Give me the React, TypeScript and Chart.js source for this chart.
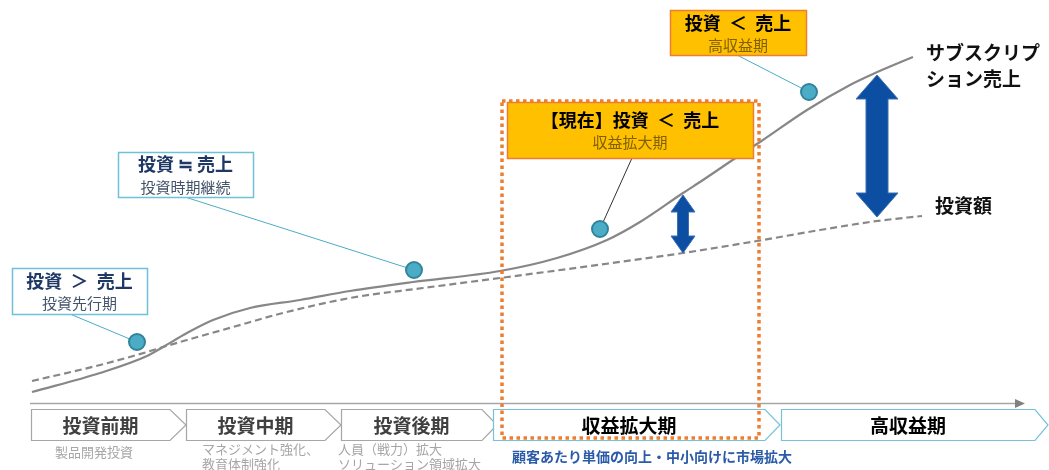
import React, { useEffect, useRef } from "react";
import { Chart, registerables } from "chart.js";

Chart.register(...registerables);

// ---- data (time on x, amount on y) ----
const salesT = [32, 100, 147, 163, 187, 213, 250, 300, 350, 413, 500, 557, 607, 640, 683, 703, 740, 760, 807, 850, 873, 913];
const salesV = [78, 97, 114, 123, 137, 150, 162, 170, 179, 188, 199, 212, 230, 248, 277, 290, 315, 328, 360, 385, 396, 413];
const investT = [32, 100, 147, 163, 187, 233, 283, 350, 423, 500, 590, 683, 757, 820, 877, 922];
const investV = [89, 105, 118, 123, 130, 143, 157, 172, 182, 192, 204, 217, 229, 240, 249, 254];
const milestoneT = [137, 414, 600, 809];
const milestoneV = [128, 200, 241, 378];
const gapT = [683, 877];
const gapTop = [275, 395];
const gapBottom = [217, 253];

const phaseLabels = ["投資前期", "投資中期", "投資後期", "収益拡大期", "高収益期"];
const phaseNotes = [["製品開発投資"], ["マネジメント強化、", "教育体制強化"], ["人員（戦力）拡大", "ソリューション領域拡大"]];
const growthNote = "顧客あたり単価の向上・中小向けに市場拡大";
const boxTitles = ["投資  ＞  売上", "投資 ≒ 売上", "【現在】投資  ＜  売上", "投資  ＜  売上"];
const boxSubs = ["投資先行期", "投資時期継続", "収益拡大期", "高収益期"];
const salesLabel = ["サブスクリプ", "ション売上"];
const investLabel = "投資額";

const FONT = '"Noto Sans CJK JP", "Noto Sans", sans-serif';

// layout (pixels)
const boxes = [
  { x: 12, y: 268, w: 135, h: 46, fill: "#FFFFFF", stroke: "#6EC1D6", tc: "#1F3864", sc: "#44546A", ax: 70, ay: 314, lc: "#4BACC6", ty: 13, sy: 35 },
  { x: 118, y: 152, w: 135, h: 45, fill: "#FFFFFF", stroke: "#6EC1D6", tc: "#1F3864", sc: "#44546A", ax: 185, ay: 197, lc: "#4BACC6", ty: 12, sy: 35 },
  { x: 507, y: 102, w: 246, h: 56, fill: "#FFC000", stroke: "#ED7D31", tc: "#000000", sc: "#7F6000", ax: 632, ay: 158, lc: "#303030", ty: 18, sy: 40 },
  { x: 670, y: 10, w: 136, h: 45, fill: "#FFC000", stroke: "#ED7D31", tc: "#000000", sc: "#7F6000", ax: 737, ay: 55, lc: "#4BACC6", ty: 13, sy: 35 },
];
const chevrons = [
  { l: 31, b: 170, tip: 186, stroke: "#A6A6A6", color: "#404040" },
  { l: 186, b: 325, tip: 341, stroke: "#A6A6A6", color: "#404040" },
  { l: 341, b: 482, tip: 497, stroke: "#A6A6A6", color: "#404040" },
  { l: 493, b: 765, tip: 780, stroke: "#74C3D9", color: "#000000" },
  { l: 781, b: 1035, tip: 1048, stroke: "#74C3D9", color: "#000000" },
];
const noteX = [55, 202, 338];

function doubleArrow(ctx: CanvasRenderingContext2D, x: number, top: number, bot: number, sw: number, hw: number, hh: number) {
  ctx.beginPath();
  ctx.moveTo(x, top);
  ctx.lineTo(x + hw / 2, top + hh);
  ctx.lineTo(x + sw / 2, top + hh);
  ctx.lineTo(x + sw / 2, bot - hh);
  ctx.lineTo(x + hw / 2, bot - hh);
  ctx.lineTo(x, bot);
  ctx.lineTo(x - hw / 2, bot - hh);
  ctx.lineTo(x - sw / 2, bot - hh);
  ctx.lineTo(x - sw / 2, top + hh);
  ctx.lineTo(x - hw / 2, top + hh);
  ctx.closePath();
  ctx.fillStyle = "#0B4EA2";
  ctx.fill();
  ctx.strokeStyle = "#3C6FB5";
  ctx.lineWidth = 1;
  ctx.stroke();
}

const diagram = {
  id: "diagram",
  beforeDatasetsDraw(chart: any) {
    const ctx = chart.ctx as CanvasRenderingContext2D;
    const xs = chart.scales.x, ys = chart.scales.y;
    ctx.save();
    boxes.forEach((b, i) => {
      ctx.beginPath();
      ctx.moveTo(b.ax, b.ay);
      ctx.lineTo(xs.getPixelForValue(milestoneT[i]), ys.getPixelForValue(milestoneV[i]));
      ctx.strokeStyle = b.lc;
      ctx.lineWidth = 1;
      ctx.stroke();
    });
    ctx.restore();
  },
  afterDatasetsDraw(chart: any) {
    const ctx = chart.ctx as CanvasRenderingContext2D;
    const xs = chart.scales.x, ys = chart.scales.y;
    ctx.save();
    // time axis
    ctx.beginPath();
    ctx.moveTo(30, 403.5);
    ctx.lineTo(1016, 403.5);
    ctx.strokeStyle = "#A6A6A6";
    ctx.lineWidth = 1.5;
    ctx.stroke();
    ctx.beginPath();
    ctx.moveTo(1025, 403.5);
    ctx.lineTo(1015, 399);
    ctx.lineTo(1015, 408);
    ctx.closePath();
    ctx.fillStyle = "#808080";
    ctx.fill();

    // chevrons
    const top = 409.5, bot = 440.5, mid = (top + bot) / 2;
    chevrons.forEach((c, i) => {
      ctx.beginPath();
      ctx.moveTo(c.l + 0.5, top);
      ctx.lineTo(c.b, top);
      ctx.lineTo(c.tip, mid);
      ctx.lineTo(c.b, bot);
      ctx.lineTo(c.l + 0.5, bot);
      ctx.closePath();
      ctx.fillStyle = "#FFFFFF";
      ctx.fill();
      ctx.strokeStyle = c.stroke;
      ctx.lineWidth = 1.2;
      ctx.stroke();
      ctx.fillStyle = c.color;
      ctx.font = `bold 19px ${FONT}`;
      ctx.textAlign = "center";
      ctx.textBaseline = "middle";
      ctx.fillText(phaseLabels[i], (c.l + c.b) / 2, mid + 1);
    });

    // notes
    ctx.textAlign = "left";
    ctx.font = `13px ${FONT}`;
    ctx.fillStyle = "#A6A6A6";
    phaseNotes.forEach((lines, i) => {
      lines.forEach((s, j) => ctx.fillText(s, noteX[i], (lines.length === 1 ? 452 : 449) + j * 15));
    });
    ctx.font = `bold 14px ${FONT}`;
    ctx.fillStyle = "#2B5BA8";
    ctx.fillText(growthNote, 512, 457);

    // boxes
    boxes.forEach((b, i) => {
      ctx.fillStyle = b.fill;
      ctx.fillRect(b.x, b.y, b.w, b.h);
      ctx.strokeStyle = b.stroke;
      ctx.lineWidth = 1.5;
      ctx.strokeRect(b.x + 0.5, b.y + 0.5, b.w, b.h);
      ctx.textAlign = "center";
      ctx.fillStyle = b.tc;
      ctx.font = `bold 18px ${FONT}`;
      ctx.fillText(boxTitles[i], b.x + b.w / 2, b.y + b.ty);
      ctx.fillStyle = b.sc;
      ctx.font = `15px ${FONT}`;
      ctx.fillText(boxSubs[i], b.x + b.w / 2, b.y + b.sy);
    });

    // gap arrows
    doubleArrow(ctx, xs.getPixelForValue(gapT[0]), ys.getPixelForValue(gapTop[0]), ys.getPixelForValue(gapBottom[0]), 11, 24, 17);
    doubleArrow(ctx, xs.getPixelForValue(gapT[1]), ys.getPixelForValue(gapTop[1]), ys.getPixelForValue(gapBottom[1]), 22, 42, 24);

    // series labels
    ctx.textAlign = "left";
    ctx.fillStyle = "#111111";
    ctx.font = `bold 19px ${FONT}`;
    ctx.fillText(salesLabel[0], 926, 53);
    ctx.fillText(salesLabel[1], 926, 79);
    ctx.fillText(investLabel, 935, 206);

    // current-phase dotted frame
    ctx.beginPath();
    ctx.rect(502, 101, 257, 337);
    ctx.strokeStyle = "#ED7D31";
    ctx.lineWidth = 3.5;
    ctx.setLineDash([3.5, 3.5]);
    ctx.stroke();
    ctx.setLineDash([]);
    ctx.restore();
  },
};

export default function App() {
  const ref = useRef<HTMLCanvasElement | null>(null);
  useEffect(() => {
    document.body.style.margin = "0";
    const canvas = ref.current;
    if (!canvas) return;
    const chart = new Chart(canvas, {
      type: "line",
      data: {
        datasets: [
          {
            type: "scatter",
            label: "milestones",
            data: milestoneT.map((t, i) => ({ x: t, y: milestoneV[i] })),
            pointRadius: 8,
            pointBackgroundColor: "#4BACC6",
            pointBorderColor: "#31849B",
            pointBorderWidth: 2,
            showLine: false,
            clip: false,
            order: 0,
          } as any,
          {
            label: "sales",
            data: salesT.map((t, i) => ({ x: t, y: salesV[i] })),
            borderColor: "#878787",
            borderWidth: 2.2,
            pointRadius: 0,
            cubicInterpolationMode: "monotone",
            fill: false,
            order: 1,
          },
          {
            label: "invest",
            data: investT.map((t, i) => ({ x: t, y: investV[i] })),
            borderColor: "#878787",
            borderWidth: 2.2,
            borderDash: [7, 4],
            pointRadius: 0,
            cubicInterpolationMode: "monotone",
            fill: false,
            order: 2,
          },
        ],
      },
      options: {
        responsive: false,
        animation: false,
        events: [],
        layout: { padding: 0, autoPadding: false },
        scales: {
          x: { type: "linear", min: 0, max: 1049, display: false },
          y: { type: "linear", min: 0, max: 470, display: false },
        },
        plugins: { legend: { display: false }, tooltip: { enabled: false } },
      },
      plugins: [diagram],
    } as any);
    return () => chart.destroy();
  }, []);
  return (
    <div style={{ width: 1049, height: 470, background: "#FFFFFF" }}>
      <canvas ref={ref} width={1049} height={470} style={{ display: "block" }} />
    </div>
  );
}
